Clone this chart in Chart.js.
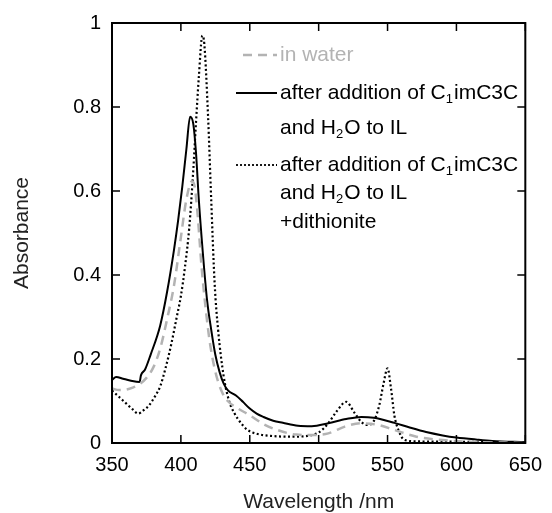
<!DOCTYPE html>
<html>
<head>
<meta charset="utf-8">
<script src="https://cdn.jsdelivr.net/npm/chart.js@4.4.1/dist/chart.umd.min.js"></script>
<style>
  html, body { margin: 0; padding: 0; background: #fff; }
  #wrap { width: 552px; height: 513px; }
</style>
</head>
<body>
<div id="wrap"><canvas id="spectra_chart"></canvas></div>
<script>
const spectra_chart = document.querySelector('#spectra_chart')

// in water (grey dashed)
const water_nm = [350, 355, 360, 365, 370, 375, 380, 385, 390, 395, 400, 404, 408, 410, 412, 415, 418, 421, 425, 430, 434, 440, 450, 460, 470, 484, 495, 507, 519, 531, 543, 555, 571, 590, 610, 650]
const water_abs = [0.130, 0.126, 0.127, 0.132, 0.140, 0.155, 0.180, 0.225, 0.295, 0.375, 0.490, 0.580, 0.623, 0.610, 0.550, 0.420, 0.320, 0.240, 0.170, 0.120, 0.100, 0.085, 0.066, 0.045, 0.031, 0.020, 0.019, 0.023, 0.039, 0.047, 0.043, 0.031, 0.015, 0.007, 0.003, 0.000]

// after addition of C1imC3C and H2O to IL (solid)
const added_nm = [350, 353, 358, 363, 370, 371, 374, 378, 385, 390, 395, 398, 401, 404, 406.7, 409, 411, 413, 416, 419, 422, 425, 428, 431, 434, 440, 445, 450, 455, 460, 467, 474, 485, 495, 507, 520, 531, 540, 555, 565, 578, 590, 600, 615, 626, 650]
const added_abs = [0.150, 0.157, 0.153, 0.149, 0.145, 0.161, 0.175, 0.210, 0.280, 0.360, 0.460, 0.530, 0.610, 0.700, 0.777, 0.760, 0.690, 0.580, 0.450, 0.340, 0.270, 0.210, 0.170, 0.142, 0.126, 0.113, 0.098, 0.082, 0.070, 0.062, 0.053, 0.048, 0.041, 0.040, 0.047, 0.057, 0.062, 0.060, 0.048, 0.038, 0.026, 0.018, 0.013, 0.008, 0.005, 0.002]

// + dithionite (dotted)
const dithio_nm = [350, 355, 360, 365, 369, 373, 377, 381, 385, 389, 393, 397, 400, 403, 406, 409, 411, 413, 415.6, 417, 419.7, 422, 424.5, 427, 431, 435, 439, 443, 448, 455, 465, 480, 492, 500, 507, 513, 520, 526, 531, 535, 540, 544, 547, 550, 552.5, 555, 558, 562, 570, 600, 650]
const dithio_abs = [0.125, 0.110, 0.095, 0.080, 0.070, 0.078, 0.090, 0.110, 0.135, 0.180, 0.235, 0.300, 0.350, 0.420, 0.510, 0.650, 0.765, 0.870, 0.970, 0.950, 0.780, 0.580, 0.380, 0.270, 0.160, 0.100, 0.070, 0.050, 0.032, 0.022, 0.017, 0.015, 0.017, 0.025, 0.047, 0.075, 0.098, 0.072, 0.050, 0.043, 0.052, 0.090, 0.140, 0.178, 0.130, 0.065, 0.030, 0.008, 0.004, 0.003, 0.001]

const x_ticks = [350, 400, 450, 500, 550, 600, 650]
const y_ticks = [0, 0.2, 0.4, 0.6, 0.8, 1]

const toPoints = (xs, ys) => xs.map((x, i) => ({ x: x, y: ys[i] }))

// legend rows: line style + text pieces (sub = subscript)
const legend_rows = [
    { style: 'water', y: 55, parts: [{ t: 'in water' }], color: '#b3b3b3' },
    { style: 'solid', y: 93, parts: [{ t: 'after addition of C' }, { t: '1', sub: true }, { t: 'imC3C' }] },
    { y: 128, parts: [{ t: 'and H' }, { t: '2', sub: true }, { t: 'O to IL' }] },
    { style: 'dotted', y: 165, parts: [{ t: 'after addition of C' }, { t: '1', sub: true }, { t: 'imC3C' }] },
    { y: 193, parts: [{ t: 'and H' }, { t: '2', sub: true }, { t: 'O to IL' }] },
    { y: 222, parts: [{ t: '+dithionite' }] }
]

const frame_plugin = {
    id: 'frame',
    afterDraw(chart) {
        const ctx = chart.ctx
        const a = chart.chartArea
        const xs = chart.scales.x
        const ys = chart.scales.y
        const len = 8
        ctx.save()
        ctx.strokeStyle = '#000'
        ctx.lineWidth = 2
        ctx.strokeRect(a.left, a.top, a.right - a.left, a.bottom - a.top)
        ctx.lineWidth = 1.5
        ctx.beginPath()
        x_ticks.forEach(v => {
            const px = xs.getPixelForValue(v)
            ctx.moveTo(px, a.bottom); ctx.lineTo(px, a.bottom - len)
            ctx.moveTo(px, a.top); ctx.lineTo(px, a.top + len)
        })
        y_ticks.forEach(v => {
            const py = ys.getPixelForValue(v)
            ctx.moveTo(a.left, py); ctx.lineTo(a.left + len, py)
            ctx.moveTo(a.right, py); ctx.lineTo(a.right - len, py)
        })
        ctx.stroke()

        // legend
        const lx0 = 236, lx1 = 277, tx = 280
        legend_rows.forEach(row => {
            if (row.style) {
                ctx.beginPath()
                if (row.style === 'water') {
                    ctx.strokeStyle = '#b3b3b3'; ctx.lineWidth = 2.5; ctx.setLineDash([9, 6])
                    ctx.moveTo(lx0 + 7, row.y); ctx.lineTo(lx1, row.y)
                } else if (row.style === 'solid') {
                    ctx.strokeStyle = '#000'; ctx.lineWidth = 2; ctx.setLineDash([])
                    ctx.moveTo(lx0, row.y); ctx.lineTo(lx1, row.y)
                } else {
                    ctx.strokeStyle = '#000'; ctx.lineWidth = 1.8; ctx.setLineDash([2, 2])
                    ctx.moveTo(lx0, row.y); ctx.lineTo(lx1, row.y)
                }
                ctx.stroke()
                ctx.setLineDash([])
            }
            let x = tx
            ctx.fillStyle = row.color || '#000'
            ctx.textBaseline = 'middle'
            row.parts.forEach(p => {
                ctx.font = (p.sub ? '13px' : '21px') + ' "Liberation Sans", Arial, sans-serif'
                ctx.fillText(p.t, x, p.sub ? row.y + 6 : row.y)
                x += ctx.measureText(p.t).width + (p.sub ? 1 : 0)
            })
        })
        ctx.restore()
    }
}

const font_tick = { family: '"Liberation Sans", Arial, sans-serif', size: 20 }
const font_title = { family: '"Liberation Sans", Arial, sans-serif', size: 21, lineHeight: 1 }

new Chart(spectra_chart, {
    type: 'line',
    data: {
        datasets: [
            {
                label: 'in water',
                data: toPoints(water_nm, water_abs),
                borderColor: '#b3b3b3',
                borderWidth: 2.5,
                borderDash: [9, 6],
                pointRadius: 0,
                cubicInterpolationMode: 'monotone'
            },
            {
                label: 'after addition',
                data: toPoints(added_nm, added_abs),
                borderColor: '#000',
                borderWidth: 2,
                pointRadius: 0,
                cubicInterpolationMode: 'monotone'
            },
            {
                label: 'dithionite',
                data: toPoints(dithio_nm, dithio_abs),
                borderColor: '#000',
                borderWidth: 2.2,
                borderDash: [2, 2.5],
                pointRadius: 0,
                cubicInterpolationMode: 'monotone'
            }
        ]
    },
    options: {
        responsive: true,
        maintainAspectRatio: false,
        animation: false,
        layout: { padding: { top: 21, right: 19, left: 0, bottom: 0 } },
        plugins: {
            legend: false,
            tooltip: { enabled: false }
        },
        scales: {
            x: {
                type: 'linear',
                min: 350,
                max: 650,
                afterBuildTicks: s => { s.ticks = x_ticks.map(v => ({ value: v })) },
                afterFit: s => { s.height = 70 },
                ticks: { color: '#000', font: font_tick, padding: 10, maxRotation: 0 },
                grid: { display: false, drawTicks: false },
                border: { display: false },
                title: { display: true, text: 'Wavelength /nm', color: '#222', font: font_title, padding: { top: 0, bottom: 0 } }
            },
            y: {
                min: 0,
                max: 1,
                afterBuildTicks: s => { s.ticks = y_ticks.map(v => ({ value: v })) },
                afterFit: s => { s.width = 112 },
                ticks: { color: '#000', font: font_tick, padding: 11, callback: v => String(+v.toFixed(1)) },
                grid: { display: false, drawTicks: false },
                border: { display: false },
                title: { display: true, text: 'Absorbance', color: '#222', font: font_title, padding: { top: 12, bottom: 0 } }
            }
        }
    },
    plugins: [frame_plugin]
})
</script>
</body>
</html>
